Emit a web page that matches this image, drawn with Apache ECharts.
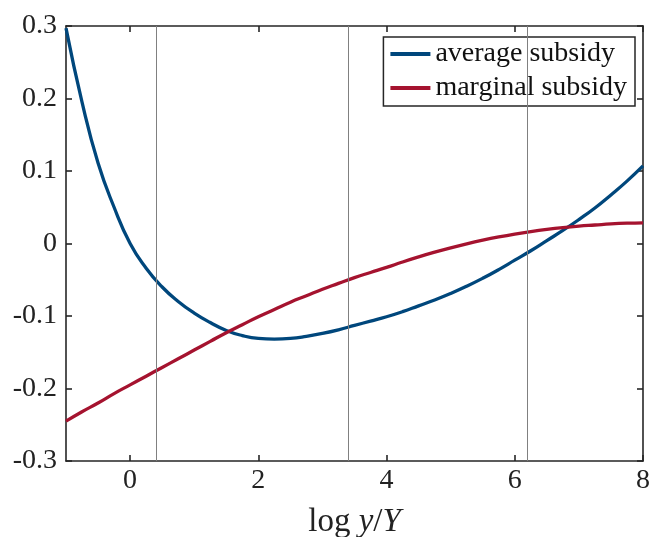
<!DOCTYPE html>
<html>
<head>
<meta charset="utf-8">
<script src="https://cdn.jsdelivr.net/npm/echarts@6/dist/echarts.min.js"></script>
<style>html,body{margin:0;padding:0;background:#fff;}#c{width:652px;height:537px;}</style>
</head>
<body>
<div id="c"></div>
<script>
var xs = [-1, -0.75, -0.5, -0.25, 0, 0.25, 0.5, 0.75, 1, 1.25, 1.5, 1.75, 2, 2.25, 2.5, 2.75, 3, 3.25, 3.5, 3.75,
          4, 4.25, 4.5, 4.75, 5, 5.25, 5.5, 5.75, 6, 6.25, 6.5, 6.75, 7, 7.25, 7.5, 7.75, 8];
var averageSubsidy = [0.297, 0.195, 0.111, 0.050, 0.0, -0.034, -0.060, -0.080, -0.096, -0.109, -0.120, -0.127, -0.131, -0.132, -0.131, -0.128, -0.124, -0.119, -0.113, -0.107,
                      -0.101, -0.094, -0.086, -0.078, -0.069, -0.059, -0.048, -0.036, -0.023, -0.010, 0.004, 0.018, 0.033, 0.049, 0.067, 0.086, 0.107];
var marginalSubsidy = [-0.245, -0.232, -0.220, -0.207, -0.195, -0.183, -0.171, -0.159, -0.147, -0.135, -0.123, -0.112, -0.101, -0.091, -0.081, -0.072, -0.063, -0.055, -0.047, -0.040,
                       -0.033, -0.0255, -0.0185, -0.012, -0.006, -0.0005, 0.0045, 0.009, 0.013, 0.0165, 0.0195, 0.022, 0.024, 0.0255, 0.027, 0.028, 0.0285];
var vLines = [0.4, 3.4, 6.2];
var xTicks = [0, 2, 4, 6, 8];
var seriesNames = ['average subsidy', 'marginal subsidy'];

var FONT = 'Liberation Serif';
var chart = echarts.init(document.getElementById('c'), null, {renderer: 'canvas'});
function pairs(ys) { return xs.map(function (x, i) { return [x, ys[i]]; }); }
var axisLine = {show: true, onZero: false, lineStyle: {color: '#262626', width: 1.6}};
var tick = {show: true, inside: true, length: 6, lineStyle: {color: '#262626', width: 1.6}};
chart.setOption({
  animation: false,
  grid: {left: 66, right: 9, top: 26, bottom: 76, containLabel: false, outerBoundsMode: 'none'},
  legend: {
    orient: 'vertical', right: 17, top: 37,
    padding: [3, 8, 4, 7], itemGap: 6,
    backgroundColor: '#fff', borderColor: '#262626', borderWidth: 1.5,
    itemWidth: 40, itemHeight: 4, icon: 'rect',
    textStyle: {fontFamily: FONT, fontSize: 28, lineHeight: 28, color: '#111'},
    data: seriesNames
  },
  xAxis: [{
    type: 'value', min: -1, max: 8, position: 'bottom',
    axisLine: axisLine,
    axisTick: Object.assign({customValues: xTicks}, tick),
    axisLabel: {customValues: xTicks, fontFamily: FONT, fontSize: 28, color: '#222', margin: 6},
    splitLine: {show: false},
    name: '{n|log }{i|y}{n|/}{i|Y}', nameLocation: 'middle', nameGap: 45,
    nameTextStyle: {rich: {
      n: {fontFamily: FONT, fontSize: 33, color: '#222'},
      i: {fontFamily: FONT, fontSize: 33, fontStyle: 'italic', color: '#222'}
    }}
  }, {
    type: 'value', min: -1, max: 8, position: 'top',
    axisLine: axisLine,
    axisTick: Object.assign({customValues: xTicks}, tick),
    axisLabel: {show: false}, splitLine: {show: false}
  }],
  yAxis: [{
    type: 'value', min: -0.3, max: 0.3, interval: 0.1, position: 'left',
    axisLine: axisLine, axisTick: tick,
    axisLabel: {fontFamily: FONT, fontSize: 28, color: '#222', margin: 9,
      formatter: function (v) { return Math.abs(v) < 1e-9 ? '0' : v.toFixed(1); }},
    splitLine: {show: false}
  }, {
    type: 'value', min: -0.3, max: 0.3, interval: 0.1, position: 'right',
    axisLine: axisLine, axisTick: tick,
    axisLabel: {show: false}, splitLine: {show: false}
  }],
  series: [{
    name: seriesNames[0], type: 'line', smooth: 0.5, showSymbol: false, z: 3,
    data: pairs(averageSubsidy),
    lineStyle: {color: '#00477c', width: 3.3}, itemStyle: {color: '#00477c'},
    markLine: {
      silent: true, symbol: 'none', label: {show: false},
      lineStyle: {color: '#808080', width: 1, type: 'solid'},
      data: vLines.map(function (v) { return {xAxis: v}; })
    }
  }, {
    name: seriesNames[1], type: 'line', smooth: 0.5, showSymbol: false, z: 3,
    data: pairs(marginalSubsidy),
    lineStyle: {color: '#a5132f', width: 3.3}, itemStyle: {color: '#a5132f'}
  }]
});
</script>
</body>
</html>
